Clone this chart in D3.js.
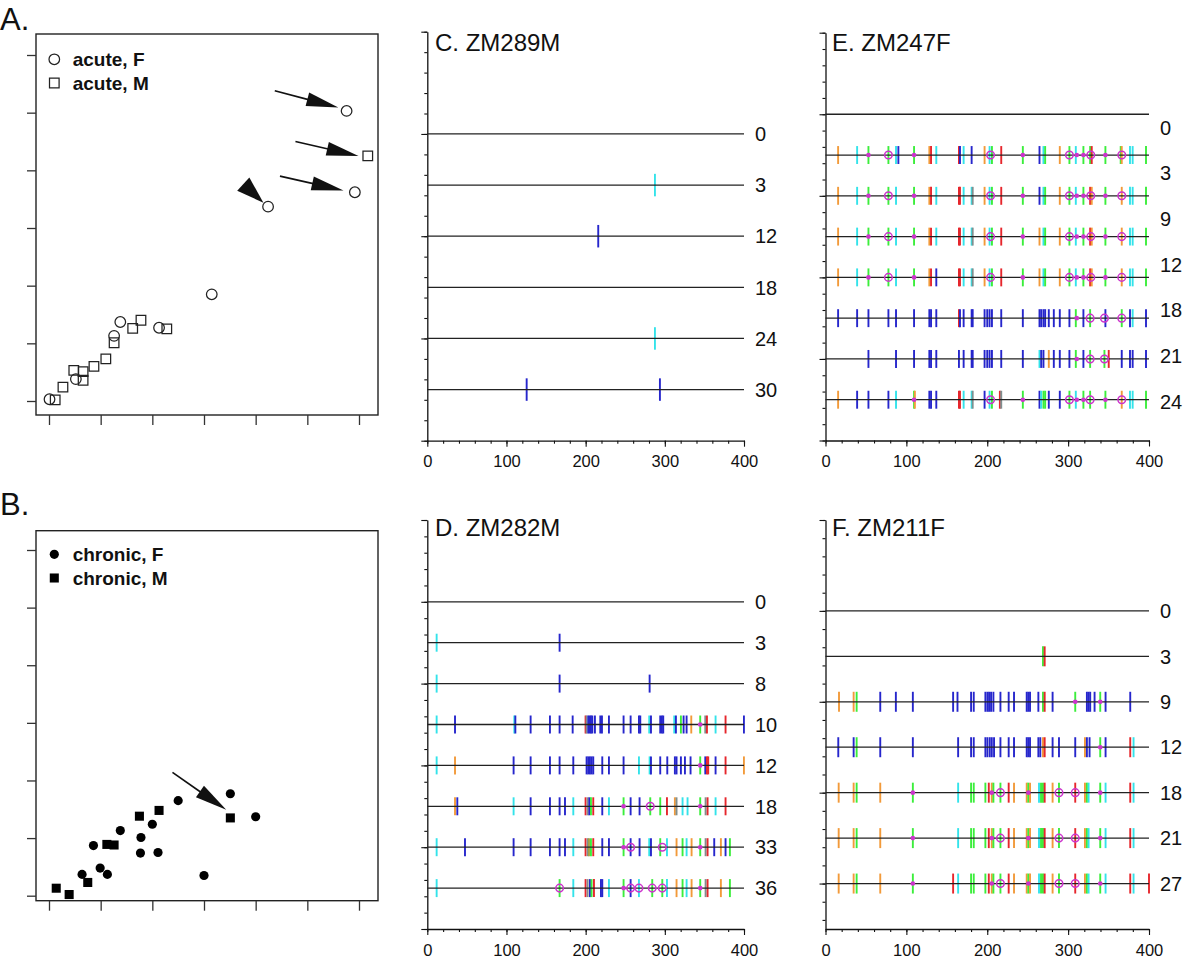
<!DOCTYPE html>
<html><head><meta charset="utf-8">
<script src="https://cdn.jsdelivr.net/npm/d3@7/dist/d3.min.js"></script>
<style>body{margin:0;background:#fff;} svg{display:block;font-family:"Liberation Sans",Arial,Helvetica,sans-serif;}</style>
</head><body><svg id="chart" width="1200" height="961"></svg>
<script>
// ---------------- DATA ----------------
const scatterTicks = [0,1,2,3,4,5,6];
const acuteF = [[5.76,5.03],[5.92,3.62],[4.24,3.37],[3.15,1.85],[1.38,1.37],[1.26,1.13],[2.13,1.27],[0.52,0.38],[0.01,0.03]];
const acuteM = [[6.17,4.25],[1.78,1.40],[1.62,1.26],[2.28,1.25],[1.26,1.01],[1.10,0.73],[0.87,0.60],[0.48,0.53],[0.66,0.51],[0.66,0.36],[0.27,0.24],[0.12,0.02]];
const chronicF = [[3.51,1.77],[2.50,1.65],[4.00,1.37],[2.00,1.24],[1.38,1.13],[1.78,1.01],[0.86,0.87],[1.77,0.74],[2.11,0.75],[0.99,0.48],[0.64,0.37],[1.13,0.37],[3.00,0.35]];
const chronicM = [[3.51,1.35],[2.13,1.48],[1.75,1.38],[1.12,0.89],[1.26,0.88],[0.75,0.23],[0.14,0.13],[0.39,0.02]];
// arrows: [tailX, tailY, tipX, tipY, headOnly]
const arrowsA = [[4.37,5.38,5.60,5.09,0],[4.77,4.50,5.99,4.25,0],[4.47,3.90,5.70,3.65,0],[3.76,3.76,4.15,3.44,1]];
const arrowsB = [[2.39,2.14,3.43,1.49,0]];
const legendA = ["acute, F","acute, M"];
const legendB = ["chronic, F","chronic, M"];

const positionTicks = [0,100,200,300,400];
const labelsC = ["0","3","12","18","24","30"];
const labelsD = ["0","3","8","10","12","18","33","36"];
const labelsE = ["0","3","9","12","18","21","24"];
const labelsF = ["0","3","9","12","18","21","27"];

// marks: [position, code]  c=cyan b=blue o=orange g=green r=red k=gray y=olive d=magenta dot q=magenta ring
const marksC = [
 [],
 [[287.5,'c']],
 [[215.9,'b']],
 [],
 [[287.5,'c']],
 [[125.5,'b'],[293.8,'b']]
];
const marksD = [
 [],
 [[11.8,'c'],[167.1,'b']],
 [[11.8,'c'],[167.1,'b'],[280.8,'b']],
 [[11.8,'c'],[35,'b'],[109.9,'c'],[111.2,'b'],[130.5,'b'],[154.9,'b'],[167.1,'b'],[183.6,'b'],[199.9,'r'],[201.2,'k'],[203.3,'b'],[205,'b'],[206.7,'b'],[208.4,'b'],[211.7,'b'],[218.5,'b'],[220.6,'b'],[229.4,'b'],[247.9,'b'],[256.8,'b'],[267.3,'b'],[269,'b'],[280.3,'c'],[282.5,'b'],[294.2,'b'],[296.3,'b'],[298,'b'],[311.9,'c'],[314,'b'],[320.3,'g'],[323.7,'b'],[327.5,'b'],[333.4,'o'],[344.7,'g'],[344.7,'d'],[351.1,'k'],[353.2,'r'],[364.1,'c'],[376.7,'r'],[399.9,'b']],
 [[11.8,'c'],[35,'o'],[109,'b'],[130.5,'b'],[154.9,'b'],[167.1,'b'],[184.4,'b'],[201.2,'b'],[203.3,'b'],[205.4,'b'],[207.5,'b'],[209.6,'b'],[221,'b'],[229.4,'b'],[247.9,'b'],[267.3,'c'],[280.8,'c'],[282.5,'b'],[294.2,'b'],[303.1,'b'],[312.7,'b'],[314.8,'b'],[320.3,'b'],[325.4,'b'],[332.5,'b'],[344.7,'g'],[344.7,'d'],[351.1,'b'],[353.2,'r'],[354.8,'r'],[364.1,'b'],[376.7,'r'],[399.9,'o']],
 [[35,'o'],[37.9,'b'],[109,'c'],[130.5,'b'],[154.9,'b'],[167.1,'b'],[173.9,'b'],[184.4,'c'],[199.9,'r'],[202.5,'k'],[204.6,'b'],[206.7,'g'],[209.6,'r'],[221,'b'],[229.4,'c'],[247.9,'g'],[247.9,'d'],[256.8,'b'],[268.1,'b'],[281.6,'g'],[281.6,'q'],[294.2,'g'],[302.7,'r'],[312.7,'o'],[314.8,'k'],[322.4,'c'],[328.7,'c'],[344.7,'g'],[344.7,'d'],[351.5,'k'],[354,'r'],[364.1,'c'],[376.7,'r']],
 [[11.8,'c'],[47.6,'b'],[109,'b'],[130.5,'b'],[154.9,'b'],[167.1,'b'],[173.9,'b'],[184.4,'c'],[199.9,'r'],[202.5,'k'],[204.2,'y'],[206.7,'g'],[209.6,'r'],[221,'b'],[229.4,'b'],[247.9,'g'],[247.9,'d'],[256.8,'b'],[256.8,'q'],[268.1,'b'],[280.3,'c'],[282.5,'b'],[294.2,'g'],[296.8,'q'],[302.7,'c'],[314.8,'o'],[322.4,'g'],[327.5,'c'],[333.8,'o'],[344.7,'g'],[344.7,'d'],[351.5,'k'],[354,'r'],[362.4,'b'],[370.8,'o'],[376.7,'b'],[382.2,'g']],
 [[11.8,'c'],[167.1,'g'],[167.1,'q'],[184.4,'c'],[199.9,'r'],[202.5,'k'],[205.4,'b'],[207.5,'g'],[210.5,'r'],[219.3,'b'],[221,'b'],[229.4,'c'],[247.9,'g'],[247.9,'d'],[256.8,'b'],[256.8,'q'],[267.3,'c'],[267.3,'q'],[284.1,'g'],[284.1,'q'],[296.8,'g'],[296.8,'q'],[302.7,'c'],[314.8,'o'],[322.4,'g'],[327.5,'c'],[333.8,'o'],[344.7,'g'],[344.7,'d'],[351.5,'k'],[354,'r'],[370.8,'o'],[382.2,'g']]
];
const marksE = [
 [],
 [[15.6,'o'],[39.1,'c'],[53.1,'g'],[53.1,'d'],[77.8,'g'],[77.8,'q'],[87.2,'c'],[90.1,'b'],[109.5,'g'],[109.5,'d'],[128.4,'o'],[130.5,'r'],[137,'c'],[165,'r'],[166.3,'b'],[170.8,'c'],[180.7,'b'],[196.7,'o'],[202.9,'c'],[205.8,'g'],[204.1,'q'],[217.3,'r'],[244,'g'],[244,'d'],[264.6,'b'],[269.5,'c'],[271.6,'g'],[289.7,'o'],[301.6,'g'],[301.6,'q'],[309.5,'c'],[310.7,'d'],[318.9,'g'],[318.9,'d'],[327.2,'g'],[329.2,'r'],[328,'q'],[346.1,'g'],[346.1,'d'],[365,'g'],[366.3,'o'],[366.3,'q'],[376.5,'c'],[379.8,'c'],[396.3,'g']],
 [[15.6,'o'],[39.1,'c'],[53.1,'g'],[53.1,'d'],[77.8,'g'],[77.8,'q'],[87.2,'c'],[109.5,'g'],[109.5,'d'],[128.4,'o'],[130.5,'r'],[137,'c'],[165,'r'],[166.3,'r'],[170.8,'c'],[180.7,'c'],[182,'k'],[196.7,'o'],[202.9,'c'],[205.8,'g'],[204.1,'q'],[217.3,'r'],[244,'g'],[244,'d'],[264.6,'b'],[269.5,'c'],[271.6,'g'],[289.7,'o'],[301.6,'g'],[301.6,'q'],[309.5,'c'],[310.7,'d'],[318.9,'g'],[318.9,'d'],[327.2,'r'],[329.2,'o'],[328,'q'],[346.1,'g'],[346.1,'d'],[366.3,'o'],[366.3,'q'],[376.5,'c'],[379.8,'c'],[396.3,'g']],
 [[15.6,'o'],[39.1,'c'],[53.1,'g'],[53.1,'d'],[77.8,'g'],[77.8,'q'],[87.2,'c'],[109.5,'g'],[109.5,'d'],[128.4,'o'],[130.5,'r'],[137,'c'],[165,'r'],[166.3,'r'],[170.8,'c'],[180.7,'c'],[182,'k'],[196.7,'o'],[202.9,'c'],[205.8,'g'],[204.1,'q'],[217.3,'r'],[244,'g'],[244,'d'],[264.6,'o'],[269.5,'c'],[271.6,'g'],[289.7,'o'],[301.6,'g'],[301.6,'q'],[309.5,'c'],[310.7,'d'],[318.9,'g'],[318.9,'d'],[327.2,'r'],[329.2,'o'],[328,'q'],[346.1,'g'],[346.1,'d'],[366.3,'o'],[366.3,'q'],[376.5,'c'],[379.8,'c'],[396.3,'g']],
 [[15.6,'o'],[39.1,'c'],[53.1,'g'],[53.1,'d'],[77.8,'g'],[77.8,'q'],[87.2,'c'],[109.5,'g'],[109.5,'d'],[128.4,'o'],[130.5,'r'],[137,'b'],[165,'r'],[166.3,'r'],[170.8,'c'],[180.7,'c'],[182,'k'],[196.7,'o'],[202.9,'c'],[205.8,'g'],[204.1,'q'],[217.3,'r'],[244,'g'],[244,'d'],[264.6,'o'],[269.5,'c'],[271.6,'g'],[289.7,'o'],[301.6,'g'],[301.6,'q'],[309.5,'c'],[310.7,'d'],[318.9,'g'],[318.9,'d'],[327.2,'r'],[329.2,'o'],[328,'q'],[346.1,'g'],[346.1,'d'],[366.3,'o'],[366.3,'q'],[376.5,'c'],[379.8,'c'],[396.3,'g']],
 [[15.6,'b'],[39.1,'b'],[53.1,'b'],[77.8,'b'],[87.2,'b'],[109.5,'b'],[128.4,'b'],[130.5,'b'],[137,'b'],[165,'r'],[166.3,'b'],[170.8,'b'],[180.7,'b'],[182,'b'],[196.7,'b'],[200,'b'],[202.9,'b'],[205.8,'b'],[217.3,'b'],[244,'b'],[264.6,'b'],[266.7,'b'],[269.5,'b'],[271.6,'b'],[276.1,'b'],[282.3,'b'],[289.7,'b'],[301.6,'b'],[309.5,'g'],[310.7,'d'],[318.9,'b'],[327.2,'g'],[327.2,'q'],[344.9,'q'],[346.1,'b'],[366.3,'g'],[366.3,'q'],[376.5,'b'],[379.8,'c'],[396.3,'b']],
 [[53.1,'b'],[87.2,'b'],[109.5,'b'],[128.4,'b'],[130.5,'b'],[137,'b'],[165,'b'],[170.8,'b'],[180.7,'b'],[182,'b'],[196.7,'b'],[200,'b'],[202.9,'b'],[205.8,'b'],[217.3,'b'],[244,'b'],[264.6,'c'],[266.7,'b'],[269.5,'b'],[276.1,'o'],[282.3,'b'],[289.7,'b'],[301.6,'b'],[309.5,'g'],[310.7,'d'],[318.9,'b'],[327.2,'g'],[327.2,'q'],[344.9,'g'],[344.9,'q'],[350.2,'r'],[366.3,'b'],[376.5,'b'],[379.8,'b'],[396.3,'b']],
 [[15.6,'o'],[39.1,'b'],[53.1,'b'],[77.8,'b'],[87.2,'c'],[109.5,'g'],[110.5,'o'],[109.5,'d'],[128.4,'b'],[130.5,'b'],[137,'b'],[165,'r'],[166.3,'r'],[170.8,'c'],[180.7,'c'],[182,'k'],[196.7,'b'],[202.9,'c'],[205.8,'g'],[204.1,'q'],[215.6,'r'],[217.3,'k'],[244,'g'],[244,'d'],[264.6,'b'],[266.7,'c'],[269.5,'g'],[271.6,'g'],[276.1,'b'],[289.7,'b'],[301.6,'g'],[301.6,'q'],[309.5,'c'],[310.7,'d'],[318.9,'g'],[318.9,'d'],[327.2,'g'],[327.2,'q'],[346.1,'g'],[346.1,'d'],[366.3,'o'],[366.3,'q'],[376.5,'c'],[379.8,'c'],[396.3,'g']]
];
const marksF = [
 [],
 [[268.9,'g'],[271,'r']],
 [[16.7,'o'],[34.8,'o'],[38.5,'g'],[67.7,'b'],[87,'b'],[108,'b'],[157.8,'b'],[163.2,'b'],[180,'b'],[183.3,'b'],[197.7,'b'],[200.2,'b'],[202.3,'b'],[204.7,'b'],[207.6,'b'],[216.3,'b'],[226.5,'b'],[233.1,'b'],[248.8,'b'],[250.8,'b'],[252.9,'b'],[263.2,'b'],[268.9,'g'],[271,'r'],[280.8,'b'],[308.8,'g'],[308.8,'d'],[323.2,'b'],[325.3,'b'],[327.3,'b'],[332.7,'b'],[339.7,'g'],[339.7,'d'],[346.3,'b'],[376.8,'b']],
 [[15.8,'b'],[34.8,'b'],[38.5,'g'],[67.7,'b'],[108,'b'],[164,'b'],[180,'b'],[183.3,'b'],[197.7,'b'],[200.2,'b'],[203.1,'b'],[205.6,'b'],[208.4,'b'],[216.3,'b'],[226.5,'b'],[233.1,'b'],[248.8,'b'],[250.8,'b'],[252.9,'b'],[263.2,'b'],[265.6,'b'],[268.9,'o'],[271,'r'],[280.8,'b'],[288.7,'b'],[308.8,'b'],[320.8,'o'],[323.2,'b'],[326.5,'b'],[339.7,'g'],[339.7,'d'],[346.3,'b'],[376.8,'r'],[380.9,'c']],
 [[16.3,'o'],[34.8,'o'],[38.5,'g'],[67.7,'o'],[108,'g'],[108,'d'],[164,'c'],[180,'g'],[183.3,'g'],[197.7,'g'],[201.9,'r'],[205.6,'o'],[205.6,'d'],[207.6,'g'],[216.3,'g'],[216.3,'q'],[226.5,'r'],[233.1,'o'],[248.8,'o'],[250.8,'g'],[250.8,'d'],[252.9,'o'],[264,'c'],[266.5,'g'],[268.9,'g'],[271,'r'],[280.8,'o'],[288.7,'g'],[288.7,'q'],[308.8,'r'],[308.8,'q'],[320.8,'o'],[323.2,'g'],[325.3,'c'],[339.7,'g'],[339.7,'d'],[346.3,'c'],[376.8,'r'],[380.9,'c']],
 [[16.3,'o'],[34.8,'o'],[38.5,'g'],[67.7,'o'],[108,'g'],[108,'d'],[164,'c'],[180,'g'],[183.3,'g'],[197.7,'g'],[201.9,'r'],[205.6,'o'],[205.6,'d'],[207.6,'g'],[216.3,'g'],[216.3,'q'],[226.5,'r'],[233.1,'o'],[248.8,'o'],[250.8,'g'],[250.8,'d'],[252.9,'o'],[264,'c'],[266.5,'g'],[268.9,'g'],[271,'r'],[280.8,'o'],[288.7,'g'],[288.7,'q'],[308.8,'r'],[308.8,'q'],[320.8,'o'],[323.2,'g'],[325.3,'c'],[339.7,'g'],[339.7,'d'],[346.3,'c'],[376.8,'r'],[380.9,'c']],
 [[16.3,'o'],[34.8,'o'],[38.5,'g'],[67.7,'o'],[108,'g'],[108,'d'],[157.8,'r'],[164,'c'],[180,'g'],[183.3,'g'],[197.7,'g'],[201.9,'r'],[205.6,'o'],[205.6,'d'],[207.6,'g'],[216.3,'g'],[216.3,'q'],[226.5,'r'],[233.1,'o'],[248.8,'o'],[250.8,'g'],[250.8,'d'],[252.9,'o'],[264,'c'],[266.5,'g'],[268.9,'g'],[271,'r'],[280.8,'o'],[288.7,'g'],[288.7,'q'],[308.8,'r'],[308.8,'q'],[320.8,'o'],[323.2,'g'],[325.3,'c'],[339.7,'g'],[339.7,'d'],[346.3,'c'],[376.8,'r'],[380.9,'c'],[400,'r']]
];

// ---------------- STYLE / LAYOUT ----------------
const markColor = {c:'#33e3ea', b:'#2626cc', o:'#f29a3a', g:'#3bee3b', r:'#e6262c', k:'#7f8f8f', y:'#a0a040'};
const magenta = '#cc33cc';
const svg = d3.select('#chart');
svg.append('rect').attr('width',1200).attr('height',961).attr('fill','#fff');

function drawArrow(g, x1, y1, x2, y2, headLen, headW, headOnly) {
  const dx = x2-x1, dy = y2-y1, L = Math.hypot(dx,dy), ux = dx/L, uy = dy/L;
  const hl = headOnly ? L : Math.min(headLen, L);
  const bx = x2-ux*hl, by = y2-uy*hl;
  if (!headOnly) g.append('line').attr('x1',x1).attr('y1',y1).attr('x2',bx+ux*2).attr('y2',by+uy*2)
      .attr('stroke','#111').attr('stroke-width',1.7);
  g.append('path').attr('d', `M${x2},${y2}L${bx-uy*headW/2},${by+ux*headW/2}L${bx+uy*headW/2},${by-ux*headW/2}Z`)
   .attr('fill','#111');
}

function scatter(cfg) {
  const g = svg.append('g');
  const x = d3.scaleLinear().domain([0,6]).range(cfg.xRange);
  const y = d3.scaleLinear().domain([0,6]).range(cfg.yRange);
  g.append('text').attr('x',0).attr('y',cfg.letterY).attr('font-size',31).attr('fill','#111').text(cfg.letter);
  g.append('rect').attr('x',cfg.box[0]).attr('y',cfg.box[1]).attr('width',cfg.box[2]-cfg.box[0]).attr('height',cfg.box[3]-cfg.box[1])
   .attr('fill','none').attr('stroke','#222').attr('stroke-width',1.4);
  const ax = g.append('g').attr('transform',`translate(0,${cfg.box[3]})`)
    .call(d3.axisBottom(x).tickValues(scatterTicks).tickSize(10).tickFormat(''));
  ax.select('.domain').remove();
  const ay = g.append('g').attr('transform',`translate(${cfg.box[0]},0)`)
    .call(d3.axisLeft(y).tickValues(scatterTicks).tickSize(9).tickFormat(''));
  ay.select('.domain').remove();
  g.selectAll('.tick line').attr('stroke','#333').attr('stroke-width',1.3);
  const symF = d3.symbol().type(d3.symbolCircle).size(cfg.filled ? 66 : 88)();
  const symM = d3.symbol().type(d3.symbolSquare).size(cfg.filled ? 82 : 92)();
  const sty = s => cfg.filled ? s.attr('fill','#000') : s.attr('fill','none').attr('stroke','#222').attr('stroke-width',1.25);
  g.selectAll('.pm').data(cfg.m).join('path').attr('d',symM).attr('transform',d=>`translate(${x(d[0])},${y(d[1])})`).call(sty);
  g.selectAll('.pf').data(cfg.f).join('path').attr('d',symF).attr('transform',d=>`translate(${x(d[0])},${y(d[1])})`).call(sty);
  cfg.arrows.forEach(a => drawArrow(g, x(a[0]), y(a[1]), x(a[2]), y(a[3]), 32, a[4] ? 18 : 14, a[4]));
  cfg.legend.forEach((t,i) => {
    const sy = cfg.legY[i];
    g.append('path').attr('d', i===0 ? symF : symM).attr('transform',`translate(54.3,${sy})`).call(sty);
    g.append('text').attr('x',72.7).attr('y',sy+6.8).attr('font-size',19).attr('font-weight','bold').attr('fill','#111').text(t);
  });
}

scatter({letter:'A.', letterY:30, box:[36,34,378,415], xRange:[49,359], yRange:[401,55], f:acuteF, m:acuteM, filled:false, arrows:arrowsA, legend:legendA, legY:[59.3,83]});
scatter({letter:'B.', letterY:515, box:[36,530.7,378,900.7], xRange:[49,359], yRange:[895.7,550], f:chronicF, m:chronicM, filled:true, arrows:arrowsB, legend:legendB, legY:[554.3,578]});

function highlighter(cfg, labels, rows) {
  const g = svg.append('g');
  const x = d3.scaleLinear().domain([0,400]).range([cfg.x0, cfg.x1]);
  const y = d3.scaleLinear().domain([0,cfg.yMax]).range([cfg.yTop, cfg.yBot]);
  const rowVal = i => 5 + 2.5*i;
  // y axis
  const yMinor = g.append('g').attr('transform',`translate(${cfg.x0},0)`)
    .call(d3.axisLeft(y).tickValues(d3.range(0, cfg.yMax+0.001, 1)).tickSize(3).tickSizeOuter(0).tickFormat(''));
  const yMajor = g.append('g').attr('transform',`translate(${cfg.x0},0)`)
    .call(d3.axisLeft(y).tickValues(d3.range(0, cfg.yMax+0.001, 5)).tickSize(6).tickSizeOuter(0).tickFormat(''));
  yMajor.select('.domain').remove();
  // x axis
  const xMinor = g.append('g').attr('transform',`translate(0,${cfg.yBot})`)
    .call(d3.axisBottom(x).tickValues(d3.range(0,401,20)).tickSize(3).tickSizeOuter(0).tickFormat(''));
  const xMajor = g.append('g').attr('transform',`translate(0,${cfg.yBot})`)
    .call(d3.axisBottom(x).tickValues(positionTicks).tickSize(6).tickSizeOuter(0).tickPadding(9));
  xMajor.select('.domain').remove();
  xMajor.selectAll('text').attr('font-size',16.5).attr('fill','#111').attr('font-family','"Liberation Sans",Arial,sans-serif');
  g.selectAll('.domain').attr('stroke','#111').attr('stroke-width',1.3);
  g.selectAll('.tick line').attr('stroke','#111').attr('stroke-width',1.1);
  // title
  g.append('text').attr('x',cfg.titleX).attr('y',cfg.titleY).attr('font-size',24).attr('fill','#111').text(cfg.title);
  // marks
  rows.forEach((row,i) => {
    const v = rowVal(i);
    const rg = g.append('g');
    rg.selectAll('line').data(row.filter(m => markColor[m[1]])).join('line')
      .attr('x1',m=>x(m[0])).attr('x2',m=>x(m[0])).attr('y1',y(v-0.55)).attr('y2',y(v+0.55))
      .attr('stroke',m=>markColor[m[1]]).attr('stroke-width',1.9);
    rg.append('line').attr('x1',x(0)).attr('x2',x(400)).attr('y1',y(v)).attr('y2',y(v))
      .attr('stroke','#222').attr('stroke-width',1.3);
    rg.selectAll('circle.d').data(row.filter(m => m[1]==='d')).join('circle')
      .attr('cx',m=>x(m[0])).attr('cy',y(v)).attr('r',2.3).attr('fill',magenta);
    rg.selectAll('circle.q').data(row.filter(m => m[1]==='q')).join('circle')
      .attr('cx',m=>x(m[0])).attr('cy',y(v)).attr('r',3.8).attr('fill','none').attr('stroke',magenta).attr('stroke-width',1.5);
  });
  // labels
  const ls = cfg.labelRange || [rowVal(0), rowVal(labels.length-1)];
  const ly = d3.scalePoint().domain(labels).range([y(ls[0]), y(ls[1])]);
  g.selectAll('text.rl').data(labels).join('text')
    .attr('x', cfg.x1 + 11).attr('y', d => ly(d)).attr('dy','0.36em').attr('font-size',20).attr('fill','#111').text(d => d);
}

highlighter({title:'C. ZM289M', x0:427.3, x1:744, yTop:31.7, yBot:440.7, yMax:20, titleX:435, titleY:50.7}, labelsC, marksC);
highlighter({title:'D. ZM282M', x0:427.3, x1:744, yTop:520, yBot:929, yMax:25, titleX:435, titleY:536}, labelsD, marksD);
highlighter({title:'E. ZM247F', x0:825.5, x1:1149, yTop:32.7, yBot:440.5, yMax:25, titleX:832, titleY:51, labelRange:[5.8,22.6]}, labelsE, marksE);
highlighter({title:'F. ZM211F', x0:825.5, x1:1149, yTop:520, yBot:929, yMax:22.5, titleX:832, titleY:536}, labelsF, marksF);
</script></body></html>
